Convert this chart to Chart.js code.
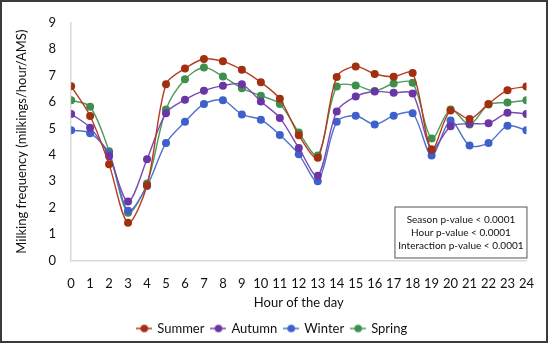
<!DOCTYPE html>
<html><head><meta charset="utf-8">
<script src="https://cdn.jsdelivr.net/npm/chart.js@4/dist/chart.umd.min.js"></script>
<style>
html,body{margin:0;padding:0;background:#fff;}
#frame{position:absolute;left:0;top:0;width:544px;height:339px;border:2px solid #3a3a3a;pointer-events:none;}
canvas{position:absolute;left:0;top:0;}
</style></head><body>
<canvas id="c" width="550" height="346"></canvas>
<div id="frame"></div>
<script>
const hours = [0,1,2,3,4,5,6,7,8,9,10,11,12,13,14,15,16,17,18,19,20,21,22,23,24];
const seriesNames = ["Summer","Autumn","Winter","Spring"];
const summer = [6.60,5.47,3.64,1.43,2.85,6.67,7.27,7.63,7.54,7.22,6.75,6.12,4.74,3.89,6.95,7.35,7.06,6.96,7.10,4.20,5.68,5.36,5.93,6.45,6.59];
const autumn = [5.55,5.03,3.95,2.23,3.83,5.58,6.09,6.43,6.62,6.67,6.02,5.40,4.26,3.21,5.64,6.21,6.40,6.35,6.32,4.20,5.08,5.18,5.20,5.59,5.55];
const winter = [4.93,4.82,4.05,1.88,2.82,4.45,5.25,5.93,6.07,5.53,5.33,4.75,4.02,3.00,5.25,5.48,5.15,5.48,5.58,3.98,5.30,4.35,4.45,5.10,4.93];
const spring = [6.07,5.82,4.14,1.81,2.92,5.72,6.86,7.31,6.97,6.52,6.24,5.93,4.85,3.98,6.59,6.63,6.42,6.70,6.73,4.62,5.72,5.15,5.91,5.98,6.07];
const yTicks = [0,1,2,3,4,5,6,7,8,9];
const boxLines = ["Season p-value < 0.0001","Hour p-value < 0.0001","Interaction p-value < 0.0001"];

const FONT = "Lato, 'Open Sans', sans-serif";
const styles = [
  {line:"#B83A1E", fill:"#A0300F"},
  {line:"#7A48B0", fill:"#6A35A5"},
  {line:"#5070CC", fill:"#3F5FCB"},
  {line:"#4E9A5C", fill:"#3E8F4E"}
];
function legendIcon(s){
  const c=document.createElement('canvas'); c.width=16; c.height=10;
  const g=c.getContext('2d');
  g.strokeStyle=s.line; g.lineWidth=1.5; g.beginPath(); g.moveTo(0,5); g.lineTo(16,5); g.stroke();
  g.fillStyle=s.fill; g.beginPath(); g.arc(8,5,3.8,0,Math.PI*2); g.fill();
  return c;
}
const allData=[summer,autumn,winter,spring];
const datasets = seriesNames.map((n,i)=>({
  label:n,
  data:hours.map((h,j)=>({x:h,y:allData[i][j]})),
  borderColor:styles[i].line,
  backgroundColor:styles[i].fill,
  pointBackgroundColor:styles[i].fill,
  pointBorderColor:styles[i].fill,
  pointRadius:4,
  pointBorderWidth:0,
  borderWidth:1.4,
  tension:0.3,
  pointStyle:'circle',
  fill:false
}));

const boxPlugin = {
  id:'pbox',
  afterDraw(chart){
    const ctx=chart.ctx, a=chart.chartArea;
    const w=132, h=51;
    const x=a.right-w, y=a.bottom-h-3;
    ctx.save();
    ctx.fillStyle="#fff"; ctx.fillRect(x,y,w,h);
    ctx.strokeStyle="#555"; ctx.lineWidth=1; ctx.strokeRect(x+0.5,y+0.5,w,h);
    ctx.fillStyle="#111"; ctx.font="10px "+FONT; ctx.textAlign="center"; ctx.textBaseline="middle";
    boxLines.forEach((t,i)=>ctx.fillText(t,x+w/2+0.5,y+13.5+i*13));
    ctx.restore();
  }
};

new Chart(document.getElementById('c'),{
  type:'line',
  data:{datasets},
  options:{
    responsive:false,animation:false,
    layout:{padding:{left:14,right:19,top:4,bottom:1}},
    plugins:{
      legend:{position:'bottom',
        labels:{font:{size:13,family:FONT},color:"#111",usePointStyle:true,padding:7.5,
          generateLabels(chart){
            return chart.data.datasets.map((d,i)=>({text:d.label,pointStyle:legendIcon(styles[i]),fillStyle:styles[i].fill,strokeStyle:styles[i].fill,lineWidth:0,datasetIndex:i,fontColor:"#111"}));
          }}},
      tooltip:{enabled:false}
    },
    scales:{
      x:{type:'linear',min:0,max:24,
        afterBuildTicks(s){s.ticks=hours.map(v=>({value:v}));},
        afterFit(s){s.height=54;},
        grid:{display:false,drawTicks:false},
        border:{color:"#d9d9d9",width:1.5},
        ticks:{font:{size:13,family:FONT},color:"#111",padding:16,autoSkip:false,maxRotation:0},
        title:{display:true,text:"Hour of the day",font:{size:13,family:FONT},color:"#111",padding:{top:0,bottom:4}}
      },
      y:{min:0,max:9,
        afterBuildTicks(s){s.ticks=yTicks.map(v=>({value:v}));},
        grid:{display:false,drawTicks:false},
        border:{color:"#d9d9d9",width:1.5},
        ticks:{font:{size:13,family:FONT},color:"#111",padding:15},
        title:{display:true,text:"Milking frequency (milkings/hour/AMS)",font:{size:13,family:FONT},color:"#111",padding:{top:0,bottom:4}}
      }
    }
  },
  plugins:[boxPlugin]
});
</script>
</body></html>
